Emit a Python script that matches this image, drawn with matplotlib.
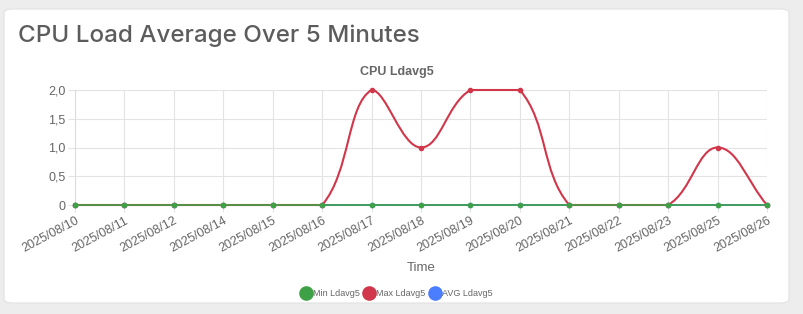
import numpy as np
import matplotlib
matplotlib.use("Agg")
import matplotlib.pyplot as plt
from matplotlib.path import Path
from matplotlib.patches import PathPatch, FancyBboxPatch
from matplotlib.lines import Line2D
from matplotlib.ticker import FuncFormatter

dates = ["2025/08/10", "2025/08/11", "2025/08/12", "2025/08/14", "2025/08/15",
         "2025/08/16", "2025/08/17", "2025/08/18", "2025/08/19", "2025/08/20",
         "2025/08/21", "2025/08/22", "2025/08/23", "2025/08/25", "2025/08/26"]
min_ld = [0, 0, 0, 0, 0, 0, 0, 0, 0, 0, 0, 0, 0, 0, 0]
max_ld = [0, 0, 0, 0, 0, 0, 2, 1, 2, 2, 0, 0, 0, 1, 0]
avg_ld = [0, 0, 0, 0, 0, 0, 0, 0, 0, 0, 0, 0, 0, 0, 0]

GREEN = "#3fa146"
RED = "#d1364a"
BLUE = "#4a7dff"
TXT = "#666666"

plt.rcParams["font.family"] = ["Liberation Sans", "DejaVu Sans"]

fig = plt.figure(figsize=(8.04, 3.14), dpi=100)
fig.patch.set_facecolor("#ededed")

# card
card = FancyBboxPatch((4 / 804, 11 / 314), 785 / 804, 294 / 314,
                      boxstyle="round,pad=0,rounding_size=0.012",
                      transform=fig.transFigure, facecolor="white",
                      edgecolor="#e2e2e2", linewidth=0.8, zorder=-10)
fig.patches.append(card)

fig.text(18 / 804, 1 - 36 / 314, "CPU Load Average Over 5 Minutes",
         fontsize=17.4, color="#5c5c5c", family=["Inter", "DejaVu Sans"],
         fontweight="medium", va="center", ha="left")
fig.text(397 / 804, 1 - 72 / 314, "CPU Ldavg5", fontsize=9, fontweight="bold",
         color=TXT, ha="center", va="center")

ax = fig.add_axes([75 / 804, 1 - 205 / 314, 692 / 804, 115 / 314])
ax.set_facecolor("none")
x = np.arange(len(dates))
ax.set_xlim(0, len(dates) - 1)
ax.set_ylim(0, 2)


def spline_path(xs, ys, t=0.4):
    # chart.js style bezier spline, control points capped to the plot area
    pts = ax.transData.transform(np.column_stack([xs, ys]))
    bb = ax.bbox
    n = len(pts)
    cp_prev, cp_next = [], []
    for i in range(n):
        prev = pts[i - 1] if i > 0 else pts[i]
        cur = pts[i]
        nxt = pts[i + 1] if i < n - 1 else pts[i]
        d01 = np.hypot(*(cur - prev))
        d12 = np.hypot(*(nxt - cur))
        tot = d01 + d12
        s01 = d01 / tot if tot else 0
        s12 = d12 / tot if tot else 0
        cp_prev.append(cur - t * s01 * (nxt - prev))
        cp_next.append(cur + t * s12 * (nxt - prev))
    cap = lambda p: np.array([min(max(p[0], bb.x0), bb.x1), min(max(p[1], bb.y0), bb.y1)])
    cp_prev = [cap(p) for p in cp_prev]
    cp_next = [cap(p) for p in cp_next]
    verts = [pts[0]]
    codes = [Path.MOVETO]
    for i in range(n - 1):
        verts += [cp_next[i], cp_prev[i + 1], pts[i + 1]]
        codes += [Path.CURVE4] * 3
    inv = ax.transData.inverted()
    return Path(inv.transform(np.array(verts)), codes)


for series, col, lw, z in [(avg_ld, BLUE, 1.3, 3), (max_ld, RED, 1.5, 4), (min_ld, GREEN, 1.2, 5)]:
    ax.add_patch(PathPatch(spline_path(x, series), facecolor="none", edgecolor=col,
                           linewidth=lw, zorder=z, clip_on=False))
    ax.plot(x, series, "o", color=col, markersize=3, zorder=z, clip_on=False)


def yfmt(v, pos):
    if abs(v) < 1e-9:
        return "0"
    return f"{v:.1f}".replace(".", ",")


ax.set_yticks([0, 0.5, 1, 1.5, 2])
ax.yaxis.set_major_formatter(FuncFormatter(yfmt))
ax.set_xticks(x)
ax.set_xticklabels(dates, rotation=28, ha="right", rotation_mode="anchor")
ax.grid(True, color="#e3e3e3", linewidth=0.8)
ax.set_axisbelow(True)
ax.tick_params(axis="both", colors="#e3e3e3", labelcolor=TXT, labelsize=9, length=5, width=0.8)
ax.tick_params(axis="y", pad=2)
ax.tick_params(axis="x", pad=2)
for s in ["top", "right"]:
    ax.spines[s].set_visible(False)
for s in ["left", "bottom"]:
    ax.spines[s].set_color("#dcdcdc")
    ax.spines[s].set_linewidth(0.8)

fig.text(421 / 804, 1 - 268 / 314, "Time", fontsize=9.5, color=TXT, ha="center", va="center")

handles = [Line2D([], [], marker="o", linestyle="none", markersize=9.5, color=c)
           for c in (GREEN, RED, BLUE)]
fig.legend(handles, ["Min Ldavg5", "Max Ldavg5", "AVG Ldavg5"], loc="center",
           bbox_to_anchor=(397 / 804, 1 - 294 / 314), ncol=3, frameon=False,
           fontsize=6.5, labelcolor=TXT, handlelength=1.0, handletextpad=0.3,
           columnspacing=0.5)

fig.savefig("out.png", dpi=100, facecolor=fig.get_facecolor())
